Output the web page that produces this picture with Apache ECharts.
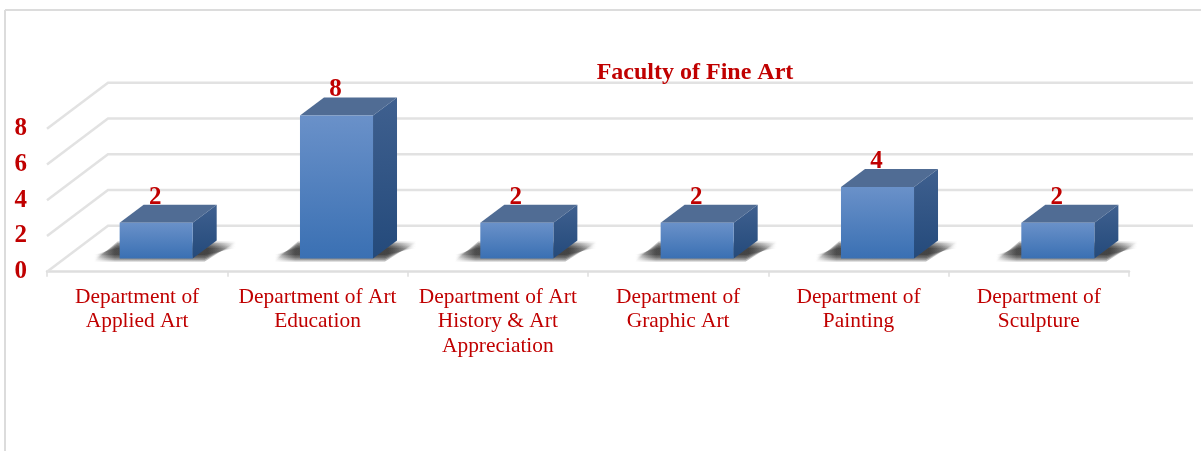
<!DOCTYPE html>
<html><head><meta charset="utf-8">
<style>html,body{margin:0;padding:0;background:#fff}#c{width:1201px;height:451px;filter:blur(0.45px)}</style>
<script src="https://cdn.jsdelivr.net/npm/echarts@6/dist/echarts.min.js"></script>
</head><body><div id="c"></div>
<script>
const categories = ["Department of\nApplied Art","Department of Art\nEducation","Department of Art\nHistory & Art\nAppreciation","Department of\nGraphic Art","Department of\nPainting","Department of\nSculpture"];
const values = [2,8,2,2,4,2];
const ticks = [0,2,4,6,8];
const titleText = "Faculty of Fine Art";

const RED = '#c00000', SERIF = '"Liberation Serif","Times New Roman",serif';
const WALL_DX = 61, WALL_DY = -46, OFF_X = 19, OFF_Y = -13.3, DEPTH_X = 24, DEPTH_Y = -18, BAR_RATIO = 0.405;
const grad = (a,b)=>new echarts.graphic.LinearGradient(0,0,0,1,[{offset:0,color:a},{offset:1,color:b}]);

function shadowLayers(x0,x1,yb){
  const out=[];
  const L=x0-30, R=x1+44, W=R-L;
  const fill=new echarts.graphic.LinearGradient(0,0,1,0,[
    {offset:0,color:'rgba(30,30,30,0)'},
    {offset:(x0-8-L)/W,color:'rgba(30,30,30,0.27)'},
    {offset:(x1+14-L)/W,color:'rgba(30,30,30,0.30)'},
    {offset:1,color:'rgba(30,30,30,0)'}]);
  for(let k=0;k<5;k++){
    const e=k*1.6;
    out.push({type:'polygon',shape:{points:[
      [L+4,yb+3-e],[R-32,yb+3-e],[R,yb-17+e],[L+28,yb-17+e]]},
      style:{fill}});
  }
  return out;
}

const chart = echarts.init(document.getElementById('c'),null,{renderer:'canvas'});
chart.setOption({
  animation:false,
  backgroundColor:'#fff',
  title:{text:titleText,left:690,top:56,textAlign:'center',textStyle:{fontFamily:SERIF,fontSize:24,fontWeight:'bold',color:RED}},
  grid:{left:47,right:72,top:128.7,bottom:179.3,containLabel:false},
  xAxis:{type:'category',data:categories,
    axisLine:{show:true,lineStyle:{color:'#dedede',width:2.5}},
    axisTick:{show:true,length:5,lineStyle:{color:'#dedede',width:1.5}},
    axisLabel:{interval:0,margin:13,color:RED,fontFamily:SERIF,fontSize:21.4,lineHeight:24.5,align:'center'}},
  yAxis:{type:'value',min:0,max:8,interval:2,
    axisLine:{show:false},axisTick:{show:false},splitLine:{show:false},
    axisLabel:{margin:20,padding:[2,0,0,0],color:RED,fontFamily:SERIF,fontSize:25,fontWeight:'bold'}},
  graphic:[
    {type:'line',shape:{x1:5,y1:10,x2:1201,y2:10},style:{stroke:'#dcdcdc',lineWidth:2}},
    {type:'line',shape:{x1:5,y1:10,x2:5,y2:451},style:{stroke:'#dcdcdc',lineWidth:2}}
  ],
  series:[
    {type:'custom',z:1,silent:true,data:ticks.map(t=>[t]),encode:{y:0},
      renderItem(p,api){
        const v=api.value(0), bw=api.size([1,0])[0];
        const L=api.coord([0,v]), R=api.coord([categories.length-1,v]);
        const x0=L[0]-bw/2, x1=R[0]+bw/2, y=L[1];
        return {type:'polyline',shape:{points:[[x0,y],[x0+WALL_DX,y+WALL_DY],[x1+WALL_DX+3,y+WALL_DY]]},
          style:{fill:null,stroke:'#e2e2e2',lineWidth:2.5}};
      }},
    {type:'custom',z:2,silent:true,data:values.map((v,i)=>[i,v]),encode:{x:0,y:1},
      renderItem(p,api){
        const i=api.value(0), v=api.value(1);
        const bw=api.size([1,0])[0]*BAR_RATIO;
        const b=api.coord([i,0]), t=api.coord([i,v]);
        const x0=b[0]+OFF_X-bw/2, x1=x0+bw, yb=b[1]+OFF_Y, yt=t[1]+OFF_Y;
        const dx=DEPTH_X, dy=DEPTH_Y;
        return {type:'group',children:[
          ...shadowLayers(x0,x1,yb),
          {type:'polygon',shape:{points:[[x0,yt],[x1,yt],[x1+dx,yt+dy],[x0+dx,yt+dy]]},style:{fill:'#506c94'}},
          {type:'polygon',shape:{points:[[x1,yt],[x1+dx,yt+dy],[x1+dx,yb+dy],[x1,yb]]},style:{fill:grad('#3f608f','#244a7b')}},
          {type:'rect',shape:{x:x0,y:yt,width:bw,height:yb-yt},style:{fill:grad('#6a91c9','#3a70b3')}},
          {type:'text',x:x0+bw/2-1,y:yt+dy+5,style:{text:String(v),fontFamily:SERIF,fontSize:25,fontWeight:'bold',fill:RED,align:'center',verticalAlign:'bottom'}}
        ]};
      }}
  ]
});
</script></body></html>
